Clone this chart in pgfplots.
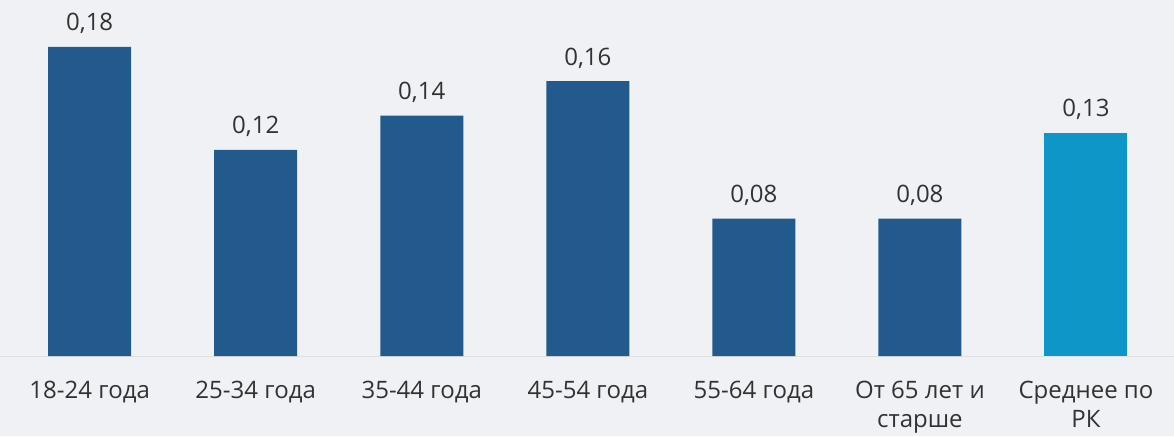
\documentclass[border=0pt]{standalone}
\usepackage{fontspec}
\setmainfont{Open Sans}
\usepackage{pgfplots}
\pgfplotsset{compat=1.18}

\definecolor{bgc}{RGB}{240,241,244}
\definecolor{barblue}{RGB}{34,90,142}
\definecolor{barcyan}{RGB}{14,150,200}
\definecolor{txt}{RGB}{50,50,52}

\begin{document}
\begin{tikzpicture}
\useasboundingbox (0,-40pt) rectangle (587pt,178pt);
\fill[bgc] (0,-40pt) rectangle (587pt,178pt);
\begin{axis}[
    at={(0,0)}, anchor=south west,
    scale only axis,
    width=587pt, height=178pt,
    xmin=-0.54, xmax=6.53,
    ymin=0, ymax=0.2073,
    axis x line=bottom, axis y line=none,
    x axis line style={draw=black!12, -},
    ytick=\empty,
    xtick={0,1,2,3,4,5,6},
    xticklabels={18-24 года, 25-34 года, 35-44 года, 45-54 года, 55-64 года, {От 65 лет и\\старше}, {Среднее по\\РК}},
    major tick length=0pt,
    xticklabel style={font=\fontsize{12}{14.5}\selectfont, text=txt, align=center, anchor=north, yshift=-9pt},
    ybar, bar width=41.5pt, bar shift=0pt,
    nodes near coords={\pgfmathprintnumber[fixed, fixed zerofill, precision=2, use comma, assume math mode=true]{\pgfplotspointmeta}},
    nodes near coords style={font=\fontsize{12}{14}\selectfont, text=txt, anchor=south, yshift=3pt},
    clip=false,
]
\addplot[draw=none, fill=barblue] coordinates {(0,0.18) (1,0.12) (2,0.14) (3,0.16) (4,0.08) (5,0.08)};
\addplot[draw=none, fill=barcyan] coordinates {(6,0.13)};
\end{axis}
\end{tikzpicture}
\end{document}
